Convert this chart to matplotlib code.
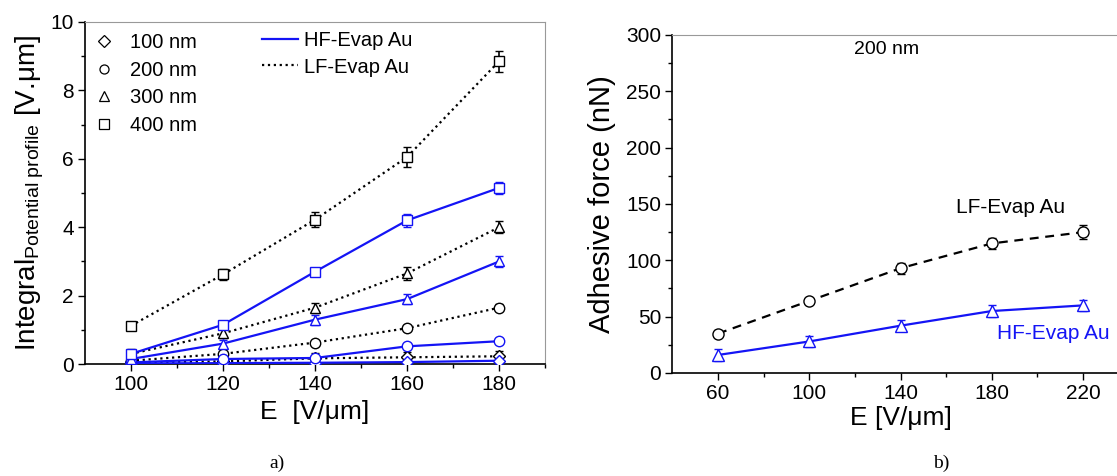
import matplotlib.pyplot as plt
from matplotlib.lines import Line2D

plt.rcParams['font.family'] = ['Liberation Sans', 'DejaVu Sans']
plt.rcParams['mathtext.fontset'] = 'custom'
plt.rcParams['mathtext.rm'] = 'Liberation Sans'
plt.rcParams['mathtext.it'] = 'Liberation Sans'

# --- panel a) data ---
E_a = [100, 120, 140, 160, 180]
thick_labels = ['100 nm', '200 nm', '300 nm', '400 nm']
thick_markers = ['D', 'o', '^', 's']

lf_a = {
    '100 nm': [0.05, 0.08, 0.17, 0.20, 0.23],
    '200 nm': [0.10, 0.30, 0.63, 1.05, 1.65],
    '300 nm': [0.30, 0.90, 1.65, 2.65, 4.00],
    '400 nm': [1.12, 2.62, 4.22, 6.05, 8.85],
}
lf_a_err = {
    '100 nm': [0.10, 0.15, 0.15, 0.15, 0.15],
    '200 nm': [0.05, 0.08, 0.08, 0.08, 0.10],
    '300 nm': [0.15, 0.15, 0.15, 0.20, 0.18],
    '400 nm': [0.10, 0.15, 0.22, 0.30, 0.30],
}
hf_a = {
    '100 nm': [0.02, 0.03, 0.04, 0.06, 0.10],
    '200 nm': [0.05, 0.15, 0.18, 0.52, 0.67],
    '300 nm': [0.15, 0.60, 1.30, 1.90, 3.00],
    '400 nm': [0.30, 1.15, 2.70, 4.20, 5.15],
}
hf_a_err = {
    '100 nm': [0.03, 0.03, 0.03, 0.04, 0.05],
    '200 nm': [0.05, 0.05, 0.05, 0.06, 0.08],
    '300 nm': [0.05, 0.10, 0.15, 0.15, 0.15],
    '400 nm': [0.05, 0.08, 0.10, 0.20, 0.18],
}

# --- panel b) data (200 nm) ---
E_b = [60, 100, 140, 180, 220]
lf_b = [35, 64, 93, 115, 125]
lf_b_err = [3, 3, 5, 5, 6]
hf_b = [16, 28, 42, 55, 60]
hf_b_err = [5, 5, 5, 5, 5]

BLUE = '#1414f5'

fig = plt.figure(figsize=(11.17, 4.76), dpi=100)
ax1 = fig.add_axes([0.076, 0.235, 0.412, 0.719])
ax2 = fig.add_axes([0.602, 0.2164, 0.4085, 0.7101])

# ---- a) ----
for lab, mk in zip(thick_labels, thick_markers):
    ms = 6.5 if mk == 'D' else 7.5
    ax1.errorbar(E_a, lf_a[lab], yerr=lf_a_err[lab], color='black', ls=':', lw=1.6,
                 marker=mk, ms=ms, mfc='white', mec='black', mew=1.0,
                 capsize=3, elinewidth=1.2, capthick=1.2, zorder=3)
    ax1.errorbar(E_a, hf_a[lab], yerr=hf_a_err[lab], color=BLUE, ls='-', lw=1.6,
                 marker=mk, ms=ms, mfc='white', mec=BLUE, mew=1.0,
                 capsize=3, elinewidth=1.2, capthick=1.2, zorder=4)

ax1.set_xlim(90, 190)
ax1.set_ylim(0, 10)
ax1.set_xticks(E_a)
ax1.set_xticks([110, 130, 150, 170, 190], minor=True)
ax1.set_yticks([0, 2, 4, 6, 8, 10])
ax1.set_yticks([1, 3, 5, 7, 9], minor=True)
ax1.set_xlabel('E  [V/\u03bcm]', fontsize=19, labelpad=4)
ax1.set_ylabel('Integral$_{\\mathrm{Potential\\ profile}}$ [V.\u03bcm]', fontsize=20, labelpad=3)

mk_handles = [Line2D([], [], ls='none', marker=m, ms=(6 if m == 'D' else 6.5), mfc='white',
                     mec='black', mew=0.9) for m in thick_markers]
leg1 = ax1.legend(mk_handles, thick_labels, loc='upper left', frameon=False, fontsize=14.5,
                  handlelength=1.0, handletextpad=0.75, labelspacing=0.42,
                  bbox_to_anchor=(-0.019, 1.02))
ax1.add_artist(leg1)
ln_handles = [Line2D([], [], color=BLUE, ls='-', lw=1.6),
              Line2D([], [], color='black', ls=':', lw=1.6)]
ax1.legend(ln_handles, ['HF-Evap Au', 'LF-Evap Au'], loc='upper left', frameon=False,
           fontsize=14.5, handlelength=1.8, handletextpad=0.3, labelspacing=0.35,
           bbox_to_anchor=(0.345, 1.025))

# ---- b) ----
ax2.errorbar(E_b, lf_b, yerr=lf_b_err, color='black', ls=(0, (4, 3)), lw=1.6,
             marker='o', ms=8, mfc='white', mec='black', mew=1.0,
             capsize=3, elinewidth=1.2, capthick=1.2, zorder=3)
ax2.errorbar(E_b, hf_b, yerr=hf_b_err, color=BLUE, ls='-', lw=1.6,
             marker='^', ms=8, mfc='white', mec=BLUE, mew=1.0,
             capsize=3, elinewidth=1.2, capthick=1.2, zorder=4)
ax2.set_xlim(40, 240)
ax2.set_ylim(0, 300)
ax2.set_xticks(E_b)
ax2.set_xticks([80, 120, 160, 200, 240], minor=True)
ax2.set_yticks(range(0, 301, 50))
ax2.set_yticks(range(25, 300, 50), minor=True)
ax2.set_xlabel('E [V/\u03bcm]', fontsize=19, labelpad=2)
ax2.set_ylabel('Adhesive force (nN)', fontsize=21, labelpad=7)
ax2.text(134, 287, '200 nm', fontsize=14, ha='center', va='center')
ax2.text(188, 147, 'LF-Evap Au', fontsize=15, ha='center', va='center')
ax2.text(207, 35, 'HF-Evap Au', fontsize=15, ha='center', va='center', color=BLUE)

for ax in (ax1, ax2):
    ax.tick_params(which='major', direction='out', length=5, width=1, labelsize=15, pad=3)
    ax.tick_params(which='minor', direction='out', length=3, width=1)
    for s in ('top', 'right'):
        ax.spines[s].set_color('#999999')
    for s in ('left', 'bottom'):
        ax.spines[s].set_linewidth(1.2)

fig.text(0.248, 0.017, 'a)', family='Liberation Serif', fontsize=14, ha='center')
fig.text(0.843, 0.017, 'b)', family='Liberation Serif', fontsize=14, ha='center')

fig.savefig('out.png', dpi=100)
